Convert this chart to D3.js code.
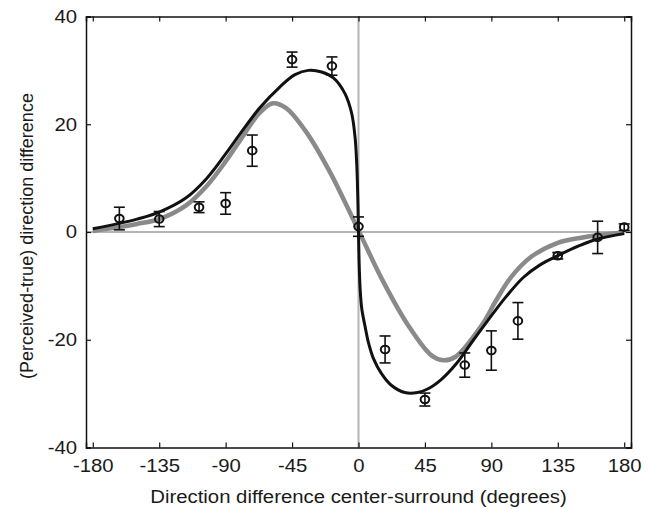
<!DOCTYPE html>
<html>
<head>
<meta charset="utf-8">
<script src="https://cdn.jsdelivr.net/npm/d3@7"></script>
<style>
  body { margin: 0; background: #fff; }
  text { font-family: "Liberation Sans", Arial, sans-serif; fill: #1a1a1a; }
</style>
</head>
<body>
<div id="chart"></div>
<script>
// measured data points (direction difference, mean, half error bar)
const dirs = [-162, -135, -108, -90, -72, -45, -18, 0, 18, 45, 72, 90, 108, 135, 162, 180];
const means = [2.5, 2.4, 4.6, 5.3, 15.1, 32.0, 30.8, 1.0, -21.8, -31.1, -24.7, -22.0, -16.5, -4.4, -1.0, 0.9];
const errs = [2.1, 1.4, 1.0, 2.0, 2.9, 1.4, 1.7, 1.8, 2.5, 1.2, 2.25, 3.65, 3.4, 0.6, 3.0, 0.6];

// black model curve
const blackX = [-180, -162, -150, -135, -117, -103, -90, -80, -67, -53, -43, -34, -25, -17, -9, -4.6, -2.3, -1.1, -0.4, 0,
  0.4, 1.1, 2.2, 4.5, 6.6, 10, 15.6, 22, 31.4, 40, 47.2, 56, 65.5, 78, 92.6, 100, 111.8, 123, 135, 150, 162, 180];
const blackY = [0.6, 1.6, 2.4, 3.7, 6.3, 9.9, 14.5, 18.3, 23.0, 27.0, 29.2, 30.0, 29.7, 28.6, 25.6, 22.0, 17.5, 12.0, 5.5, 0,
  -5.5, -10.5, -14.2, -17.6, -20.4, -23.4, -26.3, -28.4, -29.8, -29.8, -29.1, -27.4, -24.7, -20.0, -14.6, -12.0, -8.4, -6.1, -4.4, -2.5, -1.3, -0.3];

// grey model curve
const greyX = [-180, -162, -150, -135, -117, -103, -90, -80, -67, -58, -49, -35, -19.5, 0, 15.6, 33.6, 49.4, 57.4, 65.5, 83.5, 92.6, 103, 117, 135, 150, 162, 180];
const greyY = [0.2, 0.9, 1.5, 2.4, 4.9, 8.5, 13.1, 17.1, 22.1, 23.9, 23.0, 18.4, 11.2, 0.3, -8.6, -17.3, -22.9, -23.8, -23.2, -17.3, -13.0, -8.5, -4.6, -2.0, -1.1, -0.6, -0.1];

const xTicks = [-180, -135, -90, -45, 0, 45, 90, 135, 180];
const yTicks = [-40, -20, 0, 20, 40];

const W = 648, H = 509;
const margin = {top: 16.5, right: 17, bottom: 61.5, left: 86};
const width = W - margin.left - margin.right,
    height = H - margin.top - margin.bottom;
const stretch = 1.13; // the original lettering is a little wide

const svg = d3.select('#chart').append('svg')
  .attr('width', W)
  .attr('height', H);

const g = svg.append('g')
  .attr('transform', `translate(${margin.left},${margin.top})`);

const x = d3.scaleLinear().domain([-184.6, 184.6]).range([0, width]);
const y = d3.scaleLinear().domain([-40, 40]).range([height, 0]);

// zero lines
g.append('line')
  .attr('x1', 0).attr('x2', width)
  .attr('y1', y(0)).attr('y2', y(0))
  .attr('stroke', '#b4b4b4').attr('stroke-width', 2);
g.append('line')
  .attr('x1', x(0)).attr('x2', x(0))
  .attr('y1', 0).attr('y2', height)
  .attr('stroke', '#b4b4b4').attr('stroke-width', 2);

const line = d3.line()
  .x(d => x(d[0]))
  .y(d => y(d[1]))
  .curve(d3.curveCatmullRom.alpha(0.5));

g.append('path')
  .datum(d3.zip(greyX, greyY))
  .attr('d', line)
  .attr('fill', 'none')
  .attr('stroke', '#8a8a8a')
  .attr('stroke-width', 4.5);

g.append('path')
  .datum(d3.zip(blackX, blackY))
  .attr('d', line)
  .attr('fill', 'none')
  .attr('stroke', '#111')
  .attr('stroke-width', 3);

// error bars + markers
const pts = dirs.map((d, i) => ({x: d, m: means[i], e: errs[i]}));
const eb = g.append('g').selectAll('g')
  .data(pts)
  .enter()
  .append('g')
  .attr('stroke', '#111')
  .attr('fill', 'none');
eb.append('line')
  .attr('x1', d => x(d.x)).attr('x2', d => x(d.x))
  .attr('y1', d => y(d.m + d.e)).attr('y2', d => y(d.m - d.e))
  .attr('stroke-width', 1.6);
eb.append('line')
  .attr('x1', d => x(d.x) - 5.5).attr('x2', d => x(d.x) + 5.5)
  .attr('y1', d => y(d.m + d.e)).attr('y2', d => y(d.m + d.e))
  .attr('stroke-width', 1.6);
eb.append('line')
  .attr('x1', d => x(d.x) - 5.5).attr('x2', d => x(d.x) + 5.5)
  .attr('y1', d => y(d.m - d.e)).attr('y2', d => y(d.m - d.e))
  .attr('stroke-width', 1.6);
eb.append('ellipse')
  .attr('cx', d => x(d.x)).attr('cy', d => y(d.m))
  .attr('rx', 4.3).attr('ry', 3.8)
  .attr('stroke-width', 2);

// axes box with inward ticks
const fmt = d => String(d);
const xAx = g.append('g')
  .attr('transform', `translate(0,${height})`)
  .call(d3.axisBottom(x).tickValues(xTicks).tickSize(-5).tickPadding(12).tickFormat(fmt));
g.append('g')
  .call(d3.axisTop(x).tickValues(xTicks).tickSize(-5).tickFormat(''));
const yAx = g.append('g')
  .call(d3.axisLeft(y).tickValues(yTicks).tickSize(-5).tickPadding(9).tickFormat(fmt));
g.append('g')
  .attr('transform', `translate(${width},0)`)
  .call(d3.axisRight(y).tickValues(yTicks).tickSize(-5).tickFormat(''));

g.selectAll('.domain').attr('stroke', '#111').attr('stroke-width', 1.5);
g.selectAll('.tick line').attr('stroke', '#111').attr('stroke-width', 1.2);
g.selectAll('.tick text')
  .style('font-size', '18px')
  .style('font-family', '"Liberation Sans", Arial, sans-serif')
  .attr('fill', '#1a1a1a');
xAx.selectAll('.tick text').attr('transform', `scale(${stretch},1)`);
yAx.selectAll('.tick text')
  .attr('x', -9 / stretch)
  .attr('transform', `scale(${stretch},1)`);

// axis titles
svg.append('text')
  .attr('transform', `translate(${margin.left + x(0)},503) scale(${stretch},1)`)
  .attr('text-anchor', 'middle')
  .style('font-size', '18px')
  .text('Direction difference center-surround (degrees)');

svg.append('text')
  .attr('transform', 'translate(33,236) rotate(-90)')
  .attr('text-anchor', 'middle')
  .style('font-size', '18px')
  .text('(Perceived-true) direction difference');
</script>
</body>
</html>
